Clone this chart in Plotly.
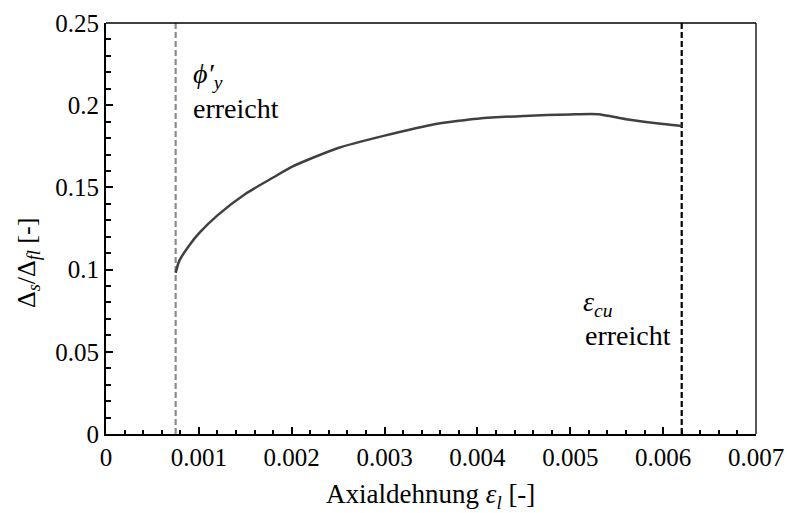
import plotly.graph_objects as go

# Axial strain vs. displacement ratio
strain = [0.00075, 0.00078, 0.0008, 0.0009, 0.001, 0.0012, 0.0015, 0.0018, 0.002,
          0.0025, 0.003, 0.0035, 0.0038, 0.004, 0.0045, 0.005, 0.0053, 0.0056,
          0.006, 0.0062]
ratio = [0.098, 0.104, 0.1065, 0.115, 0.122, 0.133, 0.146, 0.156, 0.1625,
         0.174, 0.1815, 0.188, 0.1905, 0.1918, 0.1935, 0.1944, 0.1945, 0.1915,
         0.1885, 0.1873]

eps_yield = 0.00075   # curvature phi'_y reached
eps_cu = 0.0062       # ultimate concrete strain reached

x_ticks = [0, 0.001, 0.002, 0.003, 0.004, 0.005, 0.006, 0.007]
x_labels = ["0", "0.001", "0.002", "0.003", "0.004", "0.005", "0.006", "0.007"]
y_ticks = [0, 0.05, 0.1, 0.15, 0.2, 0.25]
y_labels = ["0", "0.05", "0.1", "0.15", "0.2", "0.25"]

FONT = "'Liberation Serif', 'Times New Roman', 'DejaVu Serif', serif"

fig = go.Figure()

fig.add_trace(go.Scatter(x=[eps_yield, eps_yield], y=[0, 0.25], mode="lines",
                         line=dict(color="#8c8c8c", width=2.2, dash="6px,3px"),
                         hoverinfo="skip", showlegend=False))
fig.add_trace(go.Scatter(x=[eps_cu, eps_cu], y=[0, 0.25], mode="lines",
                         line=dict(color="#000000", width=2.2, dash="6px,3px"),
                         hoverinfo="skip", showlegend=False))
fig.add_trace(go.Scatter(x=strain, y=ratio, mode="lines",
                         line=dict(color="#404040", width=2.5, shape="spline", smoothing=0.6),
                         showlegend=False))

fig.update_layout(
    template="none",
    width=787, height=513,
    margin=dict(l=106, r=31, t=23, b=79),
    plot_bgcolor="white", paper_bgcolor="white",
    font=dict(family=FONT, size=25, color="black"),
    showlegend=False,
)

fig.update_xaxes(
    range=[0, 0.007], tickvals=x_ticks, ticktext=x_labels,
    showgrid=False, zeroline=False,
    showline=True, linecolor="black", linewidth=2,
    ticks="inside", ticklen=7, tickwidth=1.5, tickcolor="black",
    minor=dict(ticks="inside", ticklen=4, tickwidth=1.5, dtick=0.0002, tickcolor="black", showgrid=False),
    tickfont=dict(family=FONT, size=25),
)
fig.update_yaxes(
    range=[0, 0.25], tickvals=y_ticks, ticktext=y_labels,
    showgrid=False, zeroline=False,
    showline=True, linecolor="black", linewidth=2,
    ticks="inside", ticklen=7, tickwidth=1.5, tickcolor="black",
    minor=dict(ticks="inside", ticklen=5, tickwidth=1.5, dtick=0.01, tickcolor="black", showgrid=False),
    tickfont=dict(family=FONT, size=25),
)

# top and right frame lines
fig.add_shape(type="line", xref="paper", yref="paper", x0=0, x1=1, y0=1, y1=1,
              line=dict(color="black", width=1.3))
fig.add_shape(type="line", xref="paper", yref="paper", x0=1, x1=1, y0=0, y1=1,
              line=dict(color="black", width=1.3))

# axis titles
fig.add_annotation(text="Axialdehnung <i>ε<sub>l</sub></i> [-]", xref="paper", yref="paper",
                   x=0.4985, y=-0.152, xanchor="center", yanchor="middle", showarrow=False,
                   font=dict(family=FONT, size=27))
fig.add_annotation(text="Δ<sub><i>s</i></sub>/Δ<sub><i>fl</i></sub> [-]", xref="paper", yref="paper",
                   x=-0.12, y=0.416, xanchor="center", yanchor="middle", textangle=-90,
                   showarrow=False, font=dict(family=FONT, size=26))

# event labels
fig.add_annotation(text="<i>ϕ′</i><sub><i>y</i></sub>", x=0.00092, y=0.218,
                   xanchor="left", yanchor="middle", showarrow=False,
                   font=dict(family=FONT, size=28))
fig.add_annotation(text="erreicht", x=0.00091, y=0.198,
                   xanchor="left", yanchor="middle", showarrow=False,
                   font=dict(family=FONT, size=28))
fig.add_annotation(text="<i>ε<sub>cu</sub></i>", x=0.00512, y=0.0795,
                   xanchor="left", yanchor="middle", showarrow=False,
                   font=dict(family=FONT, size=28))
fig.add_annotation(text="erreicht", x=0.00514, y=0.0598,
                   xanchor="left", yanchor="middle", showarrow=False,
                   font=dict(family=FONT, size=28))

fig.write_html("out.html")
